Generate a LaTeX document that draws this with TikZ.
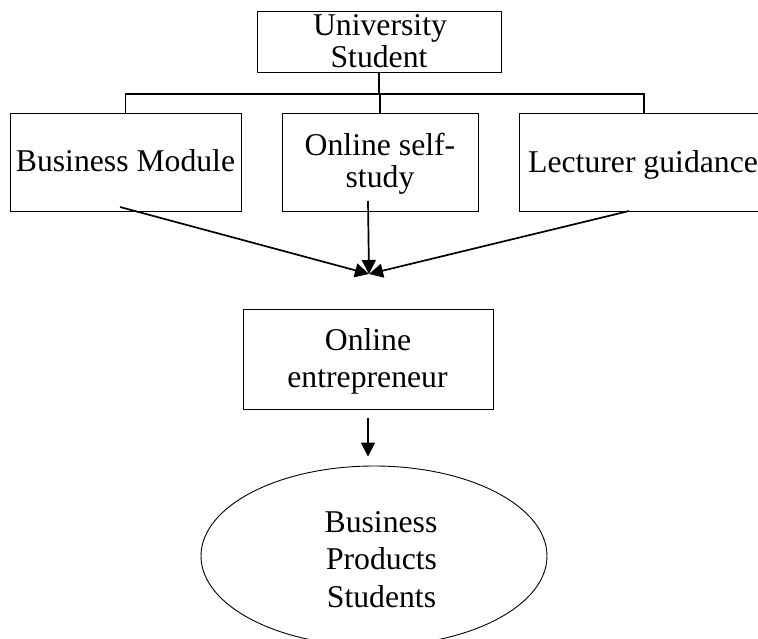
\documentclass[tikz,border=0pt]{standalone}
\usepackage{fontspec}
\setmainfont{Liberation Serif}
\usetikzlibrary{arrows.meta,shapes.geometric}
\begin{document}
\begin{tikzpicture}[x=1pt,y=-1pt,
  box/.style={draw=black,line width=1pt,rectangle,inner sep=0pt},
  oval/.style={draw=black,line width=0.9pt,ellipse,inner sep=0pt},
  txt/.style={anchor=base,inner sep=0pt,font=\fontsize{31.7}{36}\selectfont},
  tree/.style={line width=1.6pt},
  arr/.style={line width=1.7pt,-{Triangle[length=14pt,width=14pt]}}]
\useasboundingbox (0,0) rectangle (758,639);
\clip (0,0) rectangle (758,639);

% boxes
\node[box,minimum width=244pt,minimum height=61pt] (us) at (379,42.5) {};
\node[box,minimum width=231pt,minimum height=98pt] (bm) at (125.5,163) {};
\node[box,minimum width=196pt,minimum height=98pt] (os) at (380,163) {};
\node[box,minimum width=250pt,minimum height=98pt] (lg) at (644,163) {};
\node[box,minimum width=250pt,minimum height=100pt] (oe) at (368,359) {};
\node[oval,minimum width=346pt,minimum height=180pt] (el) at (374,556) {};

% labels
\node[txt] (us1) at (380,36) {University};
\node[txt] (us2) at (379,68) {Student};
\node[txt] (bmt) at (125.5,172) {Business Module};
\node[txt] (os1) at (380,156) {Online self-};
\node[txt] (os2) at (380,188) {study};
\node[txt,anchor=base west] (lgt) at (528,173) {Lecturer guidance};
\node[txt] (oe1) at (368,350) {Online};
\node[txt] (oe2) at (367.5,387) {entrepreneur};
\node[txt] (el1) at (381,532) {Business};
\node[txt] (el2) at (381.5,569) {Products};
\node[txt] (el3) at (381.5,607) {Students};

% tree connector
\coordinate (bar) at (380,94);
\draw[tree] (us.south) -- (us.south |- bar);
\draw[tree] (bm.north) |- (lg.north |- bar) -- (lg.north);
\draw[tree,line width=1.1pt] (bar) -- (os.north);

% converging arrows
\coordinate (meet) at (369,274);
\coordinate (bmfoot) at (120,207);
\coordinate (osfoot) at (368,201);
\coordinate (lgfoot) at (629,211);
\draw[arr] (bmfoot) -- (meet);
\draw[arr] (osfoot) -- (meet);
\draw[arr] (lgfoot) -- (meet);

% arrow to the oval
\draw[arr] ([yshift=-8pt]oe.south) -- ([yshift=9pt]oe.south |- el.north);
\end{tikzpicture}
\end{document}
